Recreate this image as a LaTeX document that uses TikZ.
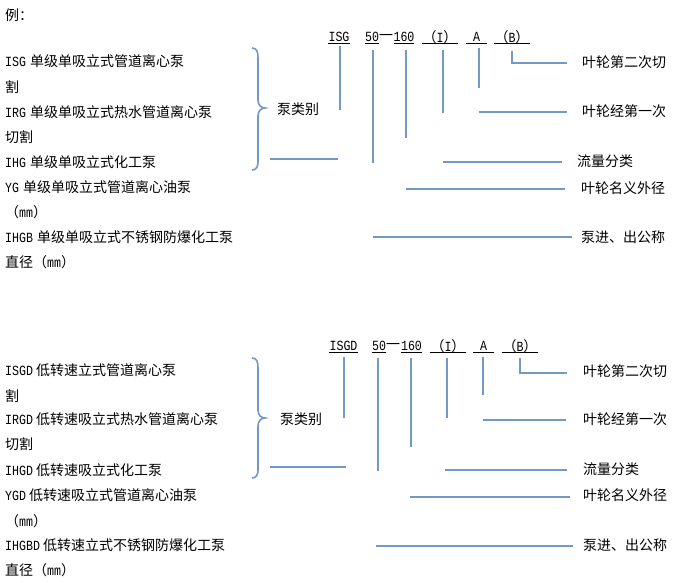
\documentclass[tikz,border=0pt]{standalone}
\usepackage{fontspec}
\setmainfont{Noto Sans CJK SC}
\newfontfamily\latmono[FakeStretch=0.83]{Liberation Mono}
\newcommand\lt[1]{{\fontsize{14}{16}\latmono #1}}
\definecolor{lb}{RGB}{114,153,197}
\tikzset{
  lead/.style={draw=lb, line width=2.2pt},
  bracestyle/.style={draw=lb, line width=1.6pt},
  uline/.style={draw=black, line width=0.7pt},
  txt/.style={anchor=west, inner sep=0pt, font=\fontsize{14}{16}\selectfont},
  codetxt/.style={inner sep=0pt, font=\fontsize{14}{16}\selectfont},
}
\begin{document}
\begin{tikzpicture}[x=1pt,y=-1pt]
\useasboundingbox (0,0) rectangle (678,582);
\fill[white] (0,0) rectangle (678,582);

% ---------------- top section ----------------
\node[txt] (ex) at (5,15) {例：};
\node[txt] (ta1) at (5,61) {\lt{ISG}\hspace{4pt}单级单吸立式管道离心泵};
\node[txt] (ta2) at (5,87) {割};
\node[txt] (ta3) at (5,112) {\lt{IRG}\hspace{4pt}单级单吸立式热水管道离心泵};
\node[txt] (ta4) at (5,137) {切割};
\node[txt] (ta5) at (5,162) {\lt{IHG}\hspace{4pt}单级单吸立式化工泵};
\node[txt] (ta6) at (5,187) {\lt{YG}\hspace{4pt}单级单吸立式管道离心油泵};
\node[txt] (ta7) at (5,212) {（\lt{mm}）};
\node[txt] (ta8) at (5,237) {\lt{IHGB}\hspace{4pt}单级单吸立式不锈钢防爆化工泵};
\node[txt] (ta9) at (5,262) {直径（\lt{mm}）};

\draw[bracestyle] (252,48) .. controls (257,48) and (258,52) .. (258,58) -- (258,100)
  .. controls (258,105) and (261,108) .. (265,108)
  .. controls (261,108) and (258,111) .. (258,116) -- (258,162)
  .. controls (258,167) and (256,170) .. (252,170);
\node[txt] (tkind) at (277,109) {泵类别};

\node[codetxt] (tc1) at (339,37) {\lt{ISG}};
\node[codetxt] (tc2) at (372,37) {\lt{50}};
\node[codetxt] (tcd) at (386,37) {一};
\node[codetxt] (tc3) at (404,37) {\lt{160}};
\node[codetxt] (tc4) at (440,37) {（\lt{I}）};
\node[codetxt] (tc5) at (476.5,37) {\lt{A}};
\node[codetxt] (tc6) at (512,37) {（\lt{B}）};
\draw[uline] (328,43.5) -- (350,43.5);
\draw[uline] (365,43.5) -- (379,43.5);
\draw[uline] (394,43.5) -- (414,43.5);
\draw[uline] (422,43.5) -- (458,43.5);
\draw[uline] (466,43.5) -- (487,43.5);
\draw[uline] (494,43.5) -- (530,43.5);

\node[txt] (tl1) at (582,62) {叶轮第二次切};
\node[txt] (tl2) at (582,111) {叶轮经第一次};
\node[txt] (tl3) at (577,161) {流量分类};
\node[txt] (tl4) at (581,188) {叶轮名义外径};
\node[txt] (tl5) at (581,237) {泵进、出公称};

\coordinate (tv1a) at (340,46);  \coordinate (tv1b) at (340,110);
\coordinate (tv2a) at (373,50);  \coordinate (tv2b) at (373,163);
\coordinate (tv3a) at (406,50);  \coordinate (tv3b) at (406,138);
\coordinate (tv4a) at (443,50);  \coordinate (tv4b) at (443,113);
\coordinate (tv5a) at (479,48);  \coordinate (tv5b) at (479,88);
\coordinate (tv6a) at (512,51);  \coordinate (tv6b) at (567,63);
\coordinate (th2a) at (479,112); \coordinate (th2b) at (567,112);
\coordinate (th3a) at (443,162); \coordinate (th3b) at (562,162);
\coordinate (th4a) at (406,189); \coordinate (th4b) at (565,189);
\coordinate (th5a) at (373,237); \coordinate (th5b) at (572,237);
\coordinate (tbr1) at (270,159); \coordinate (tbr2) at (338,159);
\draw[lead] (tv1a) -- (tv1b);
\draw[lead] (tv2a) -- (tv2b);
\draw[lead] (tv3a) -- (tv3b);
\draw[lead] (tv4a) -- (tv4b);
\draw[lead] (tv5a) -- (tv5b);
\draw[lead] (tv6a) |- (tv6b);
\draw[lead] (th2a) -- (th2b);
\draw[lead] (th3a) -- (th3b);
\draw[lead] (th4a) -- (th4b);
\draw[lead] (th5a) -- (th5b);
\draw[lead] (tbr1) -- (tbr2);

% ---------------- bottom section ----------------
\node[txt] (ba1) at (5,370) {\lt{ISGD}\hspace{3pt}低转速立式管道离心泵};
\node[txt] (ba2) at (5,396) {割};
\node[txt] (ba3) at (5,419) {\lt{IRGD}\hspace{3pt}低转速吸立式热水管道离心泵};
\node[txt] (ba4) at (5,444) {切割};
\node[txt] (ba5) at (5,470) {\lt{IHGD}\hspace{3pt}低转速吸立式化工泵};
\node[txt] (ba6) at (5,495) {\lt{YGD}\hspace{3pt}低转速吸立式管道离心油泵};
\node[txt] (ba7) at (5,521) {（\lt{mm}）};
\node[txt] (ba8) at (5,545) {\lt{IHGBD}\hspace{3pt}低转速立式不锈钢防爆化工泵};
\node[txt] (ba9) at (5,570) {直径（\lt{mm}）};

\draw[bracestyle] (252,358) .. controls (257,358) and (258,362) .. (258,368) -- (258,410)
  .. controls (258,415) and (261,418) .. (265,418)
  .. controls (261,418) and (258,421) .. (258,426) -- (258,470)
  .. controls (258,475) and (256,478) .. (252,478);
\node[txt] (bkind) at (280,419) {泵类别};

\node[codetxt] (bc1) at (343.5,346) {\lt{ISGD}};
\node[codetxt] (bc2) at (379,346) {\lt{50}};
\node[codetxt] (bcd) at (393,346) {一};
\node[codetxt] (bc3) at (411.5,346) {\lt{160}};
\node[codetxt] (bc4) at (448,346) {（\lt{I}）};
\node[codetxt] (bc5) at (483.5,346) {\lt{A}};
\node[codetxt] (bc6) at (520,346) {（\lt{B}）};
\draw[uline] (329,352.5) -- (358,352.5);
\draw[uline] (372,352.5) -- (386,352.5);
\draw[uline] (401,352.5) -- (422,352.5);
\draw[uline] (430,352.5) -- (466,352.5);
\draw[uline] (473,352.5) -- (494,352.5);
\draw[uline] (502,352.5) -- (538,352.5);

\node[txt] (bl1) at (583,371) {叶轮第二次切};
\node[txt] (bl2) at (583,419) {叶轮经第一次};
\node[txt] (bl3) at (583,469) {流量分类};
\node[txt] (bl4) at (583,495) {叶轮名义外径};
\node[txt] (bl5) at (583,545) {泵进、出公称};

\coordinate (bv1a) at (344,357);  \coordinate (bv1b) at (344,418);
\coordinate (bv2a) at (378,358);  \coordinate (bv2b) at (378,471);
\coordinate (bv3a) at (411,358);  \coordinate (bv3b) at (411,447);
\coordinate (bv4a) at (447,358);  \coordinate (bv4b) at (447,418);
\coordinate (bv5a) at (483,357);  \coordinate (bv5b) at (483,395);
\coordinate (bv6a) at (520,358);  \coordinate (bv6b) at (567,373);
\coordinate (bh2a) at (483,420); \coordinate (bh2b) at (566,420);
\coordinate (bh3a) at (445,470); \coordinate (bh3b) at (567,470);
\coordinate (bh4a) at (410,497); \coordinate (bh4b) at (570,497);
\coordinate (bh5a) at (376,546); \coordinate (bh5b) at (573,546);
\coordinate (bbr1) at (270,467); \coordinate (bbr2) at (346,467);
\draw[lead] (bv1a) -- (bv1b);
\draw[lead] (bv2a) -- (bv2b);
\draw[lead] (bv3a) -- (bv3b);
\draw[lead] (bv4a) -- (bv4b);
\draw[lead] (bv5a) -- (bv5b);
\draw[lead] (bv6a) |- (bv6b);
\draw[lead] (bh2a) -- (bh2b);
\draw[lead] (bh3a) -- (bh3b);
\draw[lead] (bh4a) -- (bh4b);
\draw[lead] (bh5a) -- (bh5b);
\draw[lead] (bbr1) -- (bbr2);
\end{tikzpicture}
\end{document}
